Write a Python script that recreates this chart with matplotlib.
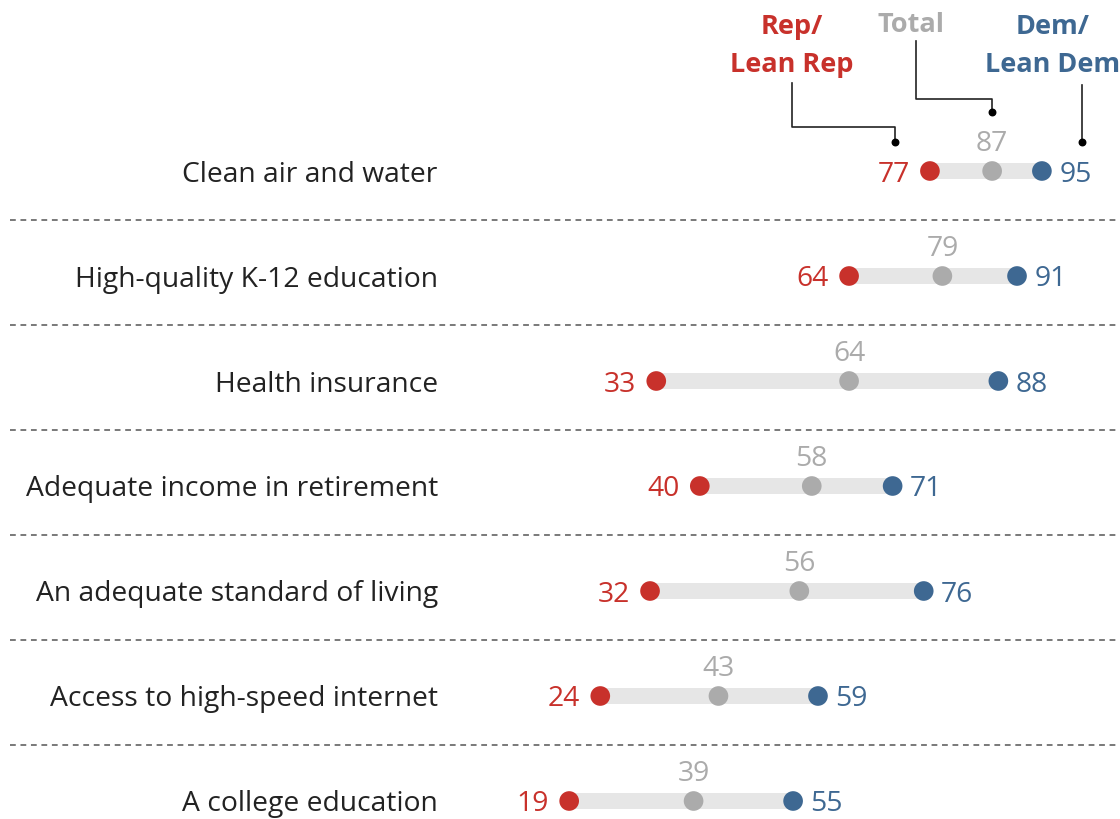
import matplotlib
matplotlib.use("Agg")
import matplotlib.pyplot as plt

categories = ["Clean air and water", "High-quality K-12 education", "Health insurance",
              "Adequate income in retirement", "An adequate standard of living",
              "Access to high-speed internet", "A college education"]
rep = [77, 64, 33, 40, 32, 24, 19]
total = [87, 79, 64, 58, 56, 43, 39]
dem = [95, 91, 88, 71, 76, 59, 55]

RED = "#C8312B"
BLUE = "#3E6892"
GRAY = "#ABABAB"
BAR = "#E6E6E6"
TXT = "#222222"

plt.rcParams['font.family'] = ['Open Sans', 'DejaVu Sans']

fig = plt.figure(figsize=(11.2, 8.2), dpi=100)
ax = fig.add_axes([0, 0, 1, 1])
# value 0 at x=451px, 6.22 px per unit; rows at 172 + 105*i px
ax.set_xlim(-451 / 6.22, (1120 - 451) / 6.22)
ax.set_ylim((820 - 172) / 105, -172 / 105)
ax.axis("off")

fs = 20.3
dy = -1.8
for i, cat in enumerate(categories):
    ax.plot([rep[i], dem[i]], [i, i], color=BAR, lw=11.5, solid_capstyle="butt", zorder=1)
    ax.scatter([rep[i]], [i], s=200, color=RED, zorder=3, edgecolors="none")
    ax.scatter([total[i]], [i], s=200, color=GRAY, zorder=3, edgecolors="none")
    ax.scatter([dem[i]], [i], s=200, color=BLUE, zorder=3, edgecolors="none")
    ax.annotate(str(rep[i]), (rep[i], i), xytext=(-14.5, dy), textcoords="offset points",
                ha="right", va="center", color=RED, fontsize=fs)
    ax.annotate(str(dem[i]), (dem[i], i), xytext=(12.5, dy), textcoords="offset points",
                ha="left", va="center", color=BLUE, fontsize=fs)
    ax.annotate(str(total[i]), (total[i], i), xytext=(0, 20), textcoords="offset points",
                ha="center", va="center", color=GRAY, fontsize=fs)
    ax.annotate(cat, (0, i), xytext=(-9.5, dy), textcoords="offset points",
                ha="right", va="center", color=TXT, fontsize=fs)
    if i < len(categories) - 1:
        ax.axhline(i + 0.47, xmin=10 / 1120, xmax=1, color="#6E6E6E", lw=1.3,
                   ls=(0, (3.2, 2.6)), zorder=0)

# header overlay in pixel coordinates
ov = fig.add_axes([0, 0, 1, 1], facecolor="none")
ov.set_xlim(0, 1120)
ov.set_ylim(820, 0)
ov.axis("off")
hfs = 19.5
ov.text(792, 46, "Rep/\nLean Rep", color=RED, fontsize=hfs, fontweight="bold",
        ha="center", va="center", linespacing=1.55)
ov.text(911, 25, "Total", color=GRAY, fontsize=hfs, fontweight="bold",
        ha="center", va="center")
ov.text(1053, 46, "Dem/\nLean Dem", color=BLUE, fontsize=hfs, fontweight="bold",
        ha="center", va="center", linespacing=1.55)
lc = "#222222"
ov.plot([792, 792, 895, 895], [84, 128, 128, 143], color=lc, lw=1.2)
ov.plot([916, 916, 992, 992], [42, 100, 100, 113], color=lc, lw=1.2)
ov.plot([1082, 1082], [86, 143], color=lc, lw=1.2)
ov.scatter([895, 992, 1082], [143, 113, 143], s=22, color="black", zorder=3)

fig.savefig("out.png", dpi=100, facecolor="white")
